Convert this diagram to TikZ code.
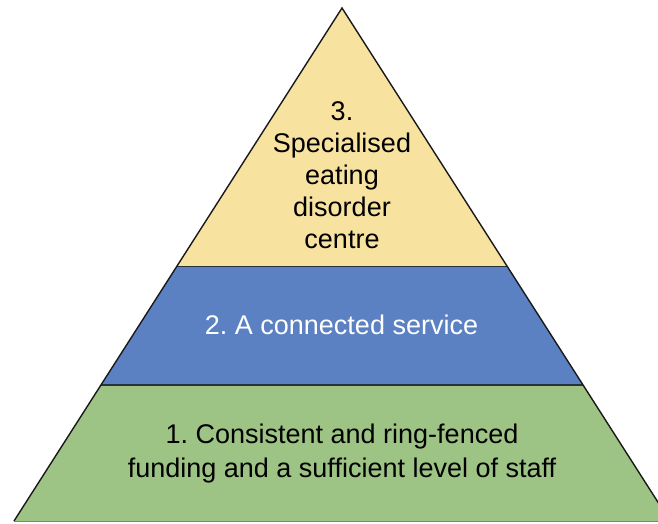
\documentclass[tikz,border=0pt]{standalone}
\usepackage{fontspec}
\setmainfont{Liberation Sans}
\frenchspacing
\usetikzlibrary{calc}
\definecolor{tierone}{RGB}{158,196,133}
\definecolor{tiertwo}{RGB}{92,129,195}
\definecolor{tierthree}{RGB}{248,226,160}
\definecolor{edgegray}{RGB}{40,50,60}
\tikzset{
    tierlabel/.style={align=center,font=\fontsize{27}{32}\selectfont,inner sep=0pt},
    edge/.style={line width=1.4pt,line join=miter,draw=black!90}
}
\begin{document}
\begin{tikzpicture}[x=1pt,y=-1pt]
        \useasboundingbox (0,0) rectangle (658,524);
        \clip (0,0) rectangle (658,524);
        %% corners of the pyramid
        \coordinate (apex) at (342,8);
        \coordinate (bl) at (14,521);
        \coordinate (br) at (670,521);
        %% cut points between the tiers
        \coordinate (ul) at ($(apex)!0.503!(bl)$);
        \coordinate (ur) at ($(apex)!0.503!(br)$);
        \coordinate (ml) at ($(apex)!0.735!(bl)$);
        \coordinate (mr) at ($(apex)!0.735!(br)$);
        %% tiers
        \fill[tierthree] (apex) -- (ur) -- (ul) -- cycle;
        \fill[tiertwo] (ul) -- (ur) -- (mr) -- (ml) -- cycle;
        \fill[tierone] (ml) -- (mr) -- (br) -- (bl) -- cycle;
        \draw[line width=0.9pt,draw=edgegray] (ul) -- (ur);
        \draw[line width=1.3pt,draw=edgegray] (ml) -- (mr);
        \draw[line width=0.8pt,draw=gray] (bl) -- (br);
        \draw[edge] (bl) -- (apex) -- (br);
        %% labels
        \node[tierlabel] (top) at (342,175.3) {3.\\Specialised\\eating\\disorder\\centre};
        \node[tierlabel,text=white] (mid) at (341.5,325.3) {2. A connected service};
        \node[tierlabel,font=\fontsize{27}{34}\selectfont] (base) at (342,454) {1. Consistent and ring-fenced\\funding and a sufficient level of staff};
    \end{tikzpicture}
\end{document}
